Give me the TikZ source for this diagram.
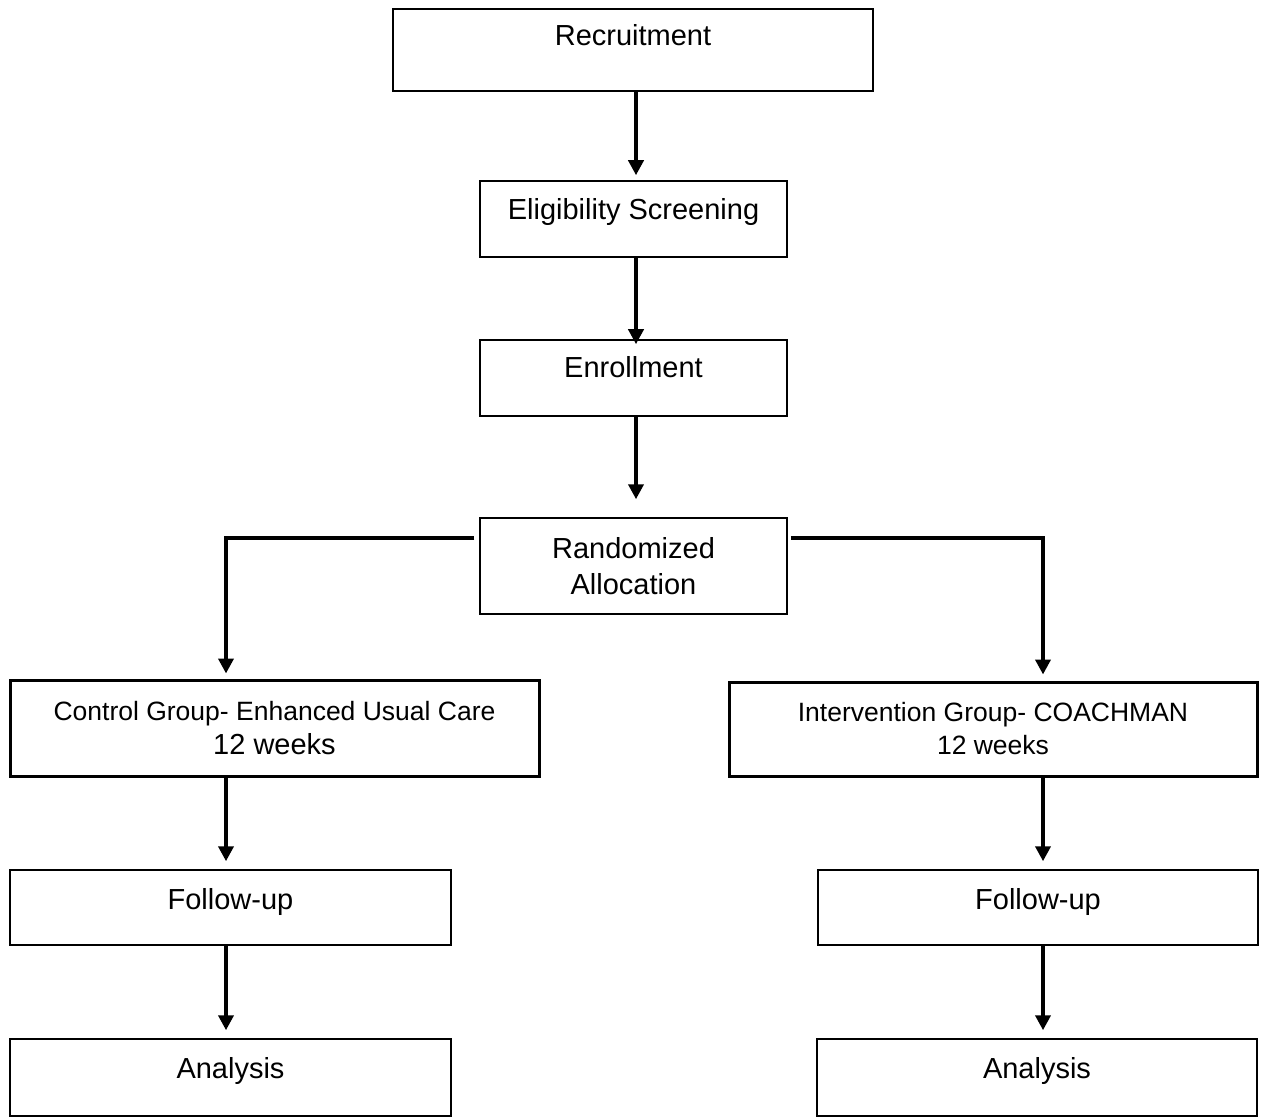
\documentclass[tikz,border=0pt]{standalone}
\usepackage{fontspec}
\setmainfont{Liberation Sans}
\usetikzlibrary{arrows.meta}
\tikzset{
  stage/.style={draw,line width=0.75pt,inner sep=0pt,align=center,text height=10.4pt,
    font=\fontsize{14.5}{18}\selectfont},
  group/.style={stage,line width=1.5pt,text height=,font=\fontsize{13.25}{16.5}\selectfont},
  arr/.style={line width=2pt,-{Triangle[length=7.5pt,width=7.5pt]}}
}
\begin{document}
\begin{tikzpicture}[x=0.5pt,y=-0.5pt]
\useasboundingbox (0,0) rectangle (1267,1117);
\node[stage,minimum width=240pt,minimum height=41pt,text depth=14.5pt] (recruit) at (633,50) {Recruitment};
\node[stage,minimum width=153.5pt,minimum height=38pt,text depth=10pt] (elig) at (633.5,219) {Eligibility Screening};
\node[stage,minimum width=153.5pt,minimum height=38pt,text depth=11pt] (enroll) at (633.5,378) {Enrollment};
\node[stage,minimum width=153.5pt,minimum height=48pt,text height=] (rand) at (633.5,566) {Randomized\\Allocation};
\node[group,minimum width=264.5pt,minimum height=48pt] (ctrl) at (274.5,728) {Control Group- Enhanced Usual Care\\[0.5pt]{\fontsize{14.5}{18}\selectfont 12 weeks}};
\node[group,minimum width=264pt,minimum height=47pt] (interv) at (993,729) {Intervention Group- COACHMAN\\12 weeks};
\node[stage,minimum width=220.5pt,minimum height=37.5pt,text depth=8.5pt] (followL) at (230.5,907.5) {Follow-up};
\node[stage,minimum width=220pt,minimum height=37.5pt,text depth=8.5pt] (followR) at (1038,907.5) {Follow-up};
\node[stage,minimum width=220.5pt,minimum height=38.5pt,text depth=9.5pt] (analL) at (230.5,1077.5) {Analysis};
\node[stage,minimum width=220pt,minimum height=38.5pt,text depth=9.5pt] (analR) at (1037,1077.5) {Analysis};
\coordinate (colM) at (636,0);
\coordinate (colL) at (226,0);
\coordinate (colR) at (1043,0);
\coordinate (forkL) at (226,538);
\coordinate (forkR) at (1043,538);
\draw[arr,shorten >=2.5pt] (recruit.south -| colM) -- (elig.north -| colM);
\draw[arr,shorten >=-2.5pt] (elig.south -| colM) -- (enroll.north -| colM);
\draw[arr,shorten >=9pt] (enroll.south -| colM) -- (rand.north -| colM);
\draw[arr,shorten <=2.5pt,shorten >=2.5pt] (rand.west |- forkL) -- (forkL) -- (ctrl.north -| forkL);
\draw[arr,shorten <=1.5pt,shorten >=3pt] (rand.east |- forkR) -- (forkR) -- (interv.north -| forkR);
\draw[arr,shorten >=4pt] (ctrl.south -| colL) -- (followL.north -| colL);
\draw[arr,shorten >=4pt] (followL.south -| colL) -- (analL.north -| colL);
\draw[arr,shorten >=4pt] (interv.south -| colR) -- (followR.north -| colR);
\draw[arr,shorten >=4pt] (followR.south -| colR) -- (analR.north -| colR);
\end{tikzpicture}
\end{document}
